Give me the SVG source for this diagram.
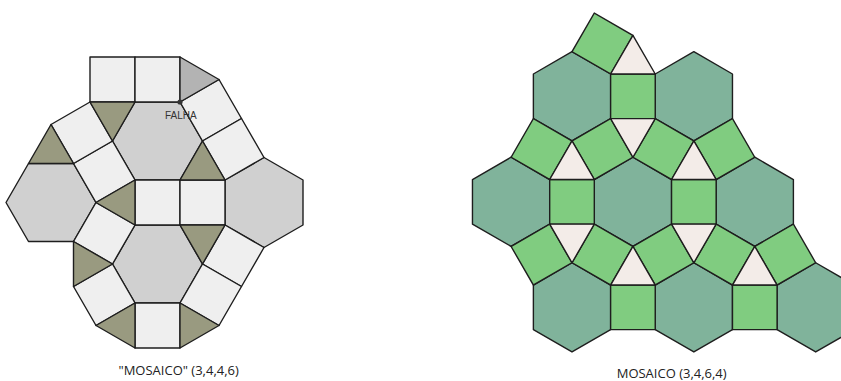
<svg xmlns="http://www.w3.org/2000/svg" xmlns:xlink="http://www.w3.org/1999/xlink" width="841" height="381" viewBox="0 0 841 381">
<style>
.e{stroke:#1e1e1e;stroke-width:1.4;stroke-linejoin:round}
.lsq{fill:#efefef}
.lhx{fill:#d0d0d0}
.ltr{fill:#999a80}
.lgr{fill:#b3b3b3}
.rhx{fill:#80b39b}
.rsq{fill:#80cc80}
.rtr{fill:#f3ece8}
.lbl{font-family:"Open Sans","Liberation Sans",sans-serif;font-size:13px;fill:#222}
</style>
<defs>
<polygon id="hx" points="0,-44.6 38.62,-22.3 38.62,22.3 0,44.6 -38.62,22.3 -38.62,-22.3"/>
<rect id="sq" x="-22.3" y="-22.3" width="44.6" height="44.6"/>
<polygon id="tu" points="0,-25.75 22.3,12.87 -22.3,12.87"/>
<polygon id="td" points="-22.3,-12.87 22.3,-12.87 0,25.75"/>
</defs>
<rect width="841" height="381" fill="#ffffff"/>
<g id="mosaico-3446">
<polygon class="e lhx" points="135,102 180,102 202.5,141 180,180 135,180 112.5,141"/>
<polygon class="e lhx" points="135,225 180,225 202.5,264 180,303 135,303 112.5,264"/>
<polygon class="e lhx" points="28.5,163.5 73.5,163.5 96,202.5 73.5,241.5 28.5,241.5 6,202.5"/>
<polygon class="e lhx" points="264,157.5 303,180 303,225 264,247.5 225,225 225,180"/>
<polygon class="e lsq" points="90,57 135,57 135,102 90,102"/>
<polygon class="e lsq" points="135,57 180,57 180,102 135,102"/>
<polygon class="e lsq" points="180,102 219,79.5 241.5,118.5 202.5,141"/>
<polygon class="e lsq" points="202.5,141 241.5,118.5 264,157.5 225,180"/>
<polygon class="e lsq" points="135,180 180,180 180,225 135,225"/>
<polygon class="e lsq" points="180,180 225,180 225,225 180,225"/>
<polygon class="e lsq" points="225,225 264,247.5 241.5,286.5 202.5,264"/>
<polygon class="e lsq" points="202.5,264 241.5,286.5 219,325.5 180,303"/>
<polygon class="e lsq" points="135,303 180,303 180,348 135,348"/>
<polygon class="e lsq" points="112.5,264 135,303 96,325.5 73.5,286.5"/>
<polygon class="e lsq" points="135,225 112.5,264 73.5,241.5 96,202.5"/>
<polygon class="e lsq" points="112.5,141 135,180 96,202.5 73.5,163.5"/>
<polygon class="e lsq" points="90,102 112.5,141 73.5,163.5 51,124.5"/>
<polygon class="e lgr" points="180,57 219,79.5 180,102"/>
<polygon class="e ltr" points="90,102 135,102 112.5,141"/>
<polygon class="e ltr" points="51,124.5 73.5,163.5 28.5,163.5"/>
<polygon class="e ltr" points="96,202.5 135,180 135,225"/>
<polygon class="e ltr" points="180,180 202.5,141 225,180"/>
<polygon class="e ltr" points="180,225 225,225 202.5,264"/>
<polygon class="e ltr" points="180,303 219,325.5 180,348"/>
<polygon class="e ltr" points="135,303 135,348 96,325.5"/>
<polygon class="e ltr" points="73.5,241.5 112.5,264 73.5,286.5"/>
<circle cx="180" cy="102" r="2.6" fill="#333"/>
<text x="165" y="118.5" font-family="Liberation Sans, Arial, sans-serif" font-size="10" fill="#333">FALHA</text>
<text class="lbl" x="118.5" y="375">"MOSAICO" (3,4,4,6)</text>
</g>
<g id="mosaico-3464">
<use href="#hx" class="e rhx" transform="translate(572,96.3)"/>
<use href="#hx" class="e rhx" transform="translate(693.85,96.3)"/>
<use href="#hx" class="e rhx" transform="translate(511.08,201.83)"/>
<use href="#hx" class="e rhx" transform="translate(632.93,201.83)"/>
<use href="#hx" class="e rhx" transform="translate(754.78,201.83)"/>
<use href="#hx" class="e rhx" transform="translate(572,307.36)"/>
<use href="#hx" class="e rhx" transform="translate(693.85,307.36)"/>
<use href="#hx" class="e rhx" transform="translate(815.7,307.36)"/>
<use href="#sq" class="e rsq" transform="translate(632.93,96.3)"/>
<use href="#sq" class="e rsq" transform="translate(602.46,43.54) rotate(30)"/>
<use href="#sq" class="e rsq" transform="translate(541.54,149.07) rotate(30)"/>
<use href="#sq" class="e rsq" transform="translate(602.46,149.07) rotate(60)"/>
<use href="#sq" class="e rsq" transform="translate(663.39,149.07) rotate(30)"/>
<use href="#sq" class="e rsq" transform="translate(724.31,149.07) rotate(60)"/>
<use href="#sq" class="e rsq" transform="translate(572,201.83)"/>
<use href="#sq" class="e rsq" transform="translate(693.85,201.83)"/>
<use href="#sq" class="e rsq" transform="translate(541.54,254.6) rotate(60)"/>
<use href="#sq" class="e rsq" transform="translate(602.46,254.6) rotate(30)"/>
<use href="#sq" class="e rsq" transform="translate(663.39,254.6) rotate(60)"/>
<use href="#sq" class="e rsq" transform="translate(724.31,254.6) rotate(30)"/>
<use href="#sq" class="e rsq" transform="translate(785.24,254.6) rotate(60)"/>
<use href="#sq" class="e rsq" transform="translate(632.93,307.36)"/>
<use href="#sq" class="e rsq" transform="translate(754.78,307.36)"/>
<use href="#tu" class="e rtr" transform="translate(632.93,61.12)"/>
<use href="#td" class="e rtr" transform="translate(632.93,131.48)"/>
<use href="#tu" class="e rtr" transform="translate(572,166.65)"/>
<use href="#tu" class="e rtr" transform="translate(693.85,166.65)"/>
<use href="#td" class="e rtr" transform="translate(572,237.01)"/>
<use href="#td" class="e rtr" transform="translate(693.85,237.01)"/>
<use href="#tu" class="e rtr" transform="translate(632.93,272.18)"/>
<use href="#tu" class="e rtr" transform="translate(754.78,272.18)"/>
<text class="lbl" x="616.7" y="377.5">MOSAICO (3,4,6,4)</text>
</g>
</svg>
